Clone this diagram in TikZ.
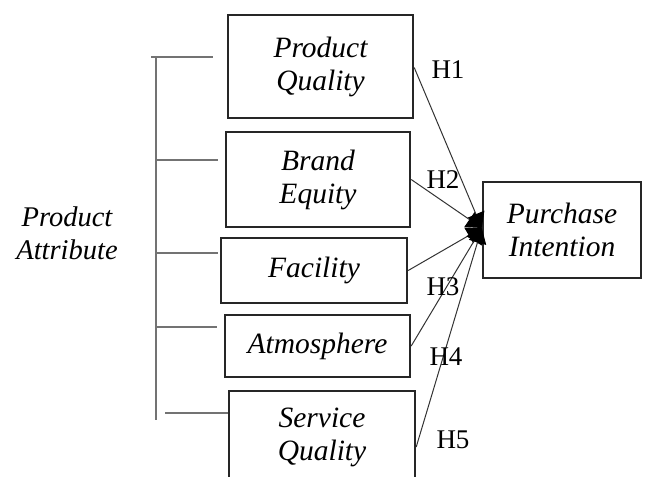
\documentclass[tikz,border=0pt]{standalone}
\usepackage{fontspec}
\setmainfont{Liberation Serif}
\usetikzlibrary{arrows.meta}
\begin{document}
\begin{tikzpicture}[x=1pt,y=-1pt,
  varbox/.style={draw=black!85,line width=2.4pt,fill=white,align=center,inner sep=0pt,
    font=\fontsize{29.5}{33}\selectfont\itshape},
  hlabel/.style={font=\fontsize{27}{30}\selectfont,inner sep=0pt},
  bracketline/.style={draw=black!55,line width=1.4pt},
  hyp/.style={draw=black!80,line width=1pt,-{Triangle[length=15pt,width=18pt,black]}}]
\useasboundingbox (0,0) rectangle (657,477);
\clip (0,0) rectangle (657,477);
% bracket
\coordinate (bt) at (156,57);
\coordinate (bb) at (156,420);
\draw[bracketline] (bt) -- (bb);
\coordinate (t1a) at (151,57);  \coordinate (t1b) at (213,57);
\coordinate (t2a) at (156,160); \coordinate (t2b) at (218,160);
\coordinate (t3a) at (156,253); \coordinate (t3b) at (218,253);
\coordinate (t4a) at (156,327); \coordinate (t4b) at (217,327);
\coordinate (t5a) at (165,413); \coordinate (t5b) at (229,413);
\draw[bracketline] (t1a) -- (t1b);
\draw[bracketline] (t2a) -- (t2b);
\draw[bracketline] (t3a) -- (t3b);
\draw[bracketline] (t4a) -- (t4b);
\draw[bracketline] (t5a) -- (t5b);
\node[font=\fontsize{28.5}{33}\selectfont\itshape,align=center] (pa) at (67,233) {Product\\Attribute};
% boxes
\node[varbox,minimum width=185pt,minimum height=103pt] (pq) at (320.5,66.5) {Product\\Quality};
\node[varbox,minimum width=184pt,minimum height=95pt] (be) at (318,179.5) {Brand\\Equity};
\node[varbox,minimum width=186pt,minimum height=65pt] (fa) at (314,270.5) {Facility};
\node[varbox,minimum width=185pt,minimum height=62pt] (at) at (317.5,346) {Atmosphere};
\node[varbox,minimum width=186pt,minimum height=92pt] (sq) at (322,437) {Service\\Quality};
\node[varbox,minimum width=158pt,minimum height=96pt] (pi) at (562,230) {Purchase\\Intention};
% hypotheses
\draw[hyp] ([yshift=-1pt]pq.east) -- ([yshift=2pt]pi.west);
\draw[hyp] (be.east) -- ([yshift=2pt]pi.west);
\draw[hyp] (fa.east) -- ([yshift=2pt]pi.west);
\draw[hyp] (at.east) -- ([yshift=2pt]pi.west);
\draw[hyp] ([yshift=-10pt]sq.east) -- ([yshift=2pt]pi.west);
\node[hlabel] (h1) at (448,70) {H1};
\node[hlabel] (h2) at (443,180) {H2};
\node[hlabel] (h3) at (443,287) {H3};
\node[hlabel] (h4) at (446,357) {H4};
\node[hlabel] (h5) at (453,440) {H5};
\end{tikzpicture}
\end{document}
